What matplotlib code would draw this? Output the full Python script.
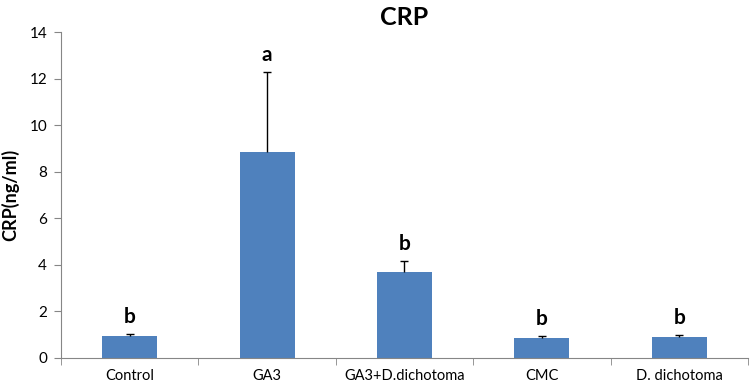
import numpy as np
import matplotlib as mpl
mpl.use('Agg')
from matplotlib import pyplot as plt

# данные с картинки
groups = ['Control', 'GA3', 'GA3+D.dichotoma', 'CMC', 'D. dichotoma']
crp = [0.93, 8.85, 3.69, 0.87, 0.90]
err = [0.10, 3.43, 0.47, 0.08, 0.08]
letters = ['b', 'a', 'b', 'b', 'b']

plt.rcParams['font.family'] = ['Lato', 'DejaVu Sans']

fig = plt.figure(figsize=(7.51, 3.91), dpi=100)
ax = fig.add_axes([0.0812, 0.0844, 0.9148, 0.8336])

x = np.arange(len(groups))
ax.bar(x, crp, width=0.4, color='#4F81BD', zorder=2)
_, caps, _ = ax.errorbar(x, crp, yerr=[np.zeros(len(err)), err], fmt='none',
                         ecolor='black', elinewidth=1, capsize=3,
                         capthick=1, zorder=3)
caps[0].set_visible(False)  # нижние засечки не нужны

for xi, v, e, s in zip(x, crp, err, letters):
    ax.text(xi, v + e + 0.3, s, ha='center', va='bottom',
            fontsize=15, fontweight='bold')

ax.set_xlim(-0.5, len(groups) - 0.5)
ax.set_ylim(0, 14)
ax.set_yticks(np.arange(0, 15, 2))
ax.set_xticks(x)
ax.set_xticklabels(groups, fontsize=10.5)
ax.set_xticks(np.arange(-0.5, len(groups), 1), minor=True)
ax.tick_params(axis='x', which='major', length=0, pad=8)
ax.tick_params(axis='x', which='minor', length=5, color='#868686')
ax.tick_params(axis='y', length=5, color='#868686', labelsize=11, pad=5)

for side in ['top', 'right']:
    ax.spines[side].set_visible(False)
for side in ['left', 'bottom']:
    ax.spines[side].set_color('#868686')

# подпись оси у самого края, как в оригинале
fig.text(0.014, 0.501, 'CRP(ng/ml)', rotation=90, ha='center', va='center',
         fontsize=13, fontweight='bold')
ax.set_title('CRP', fontsize=18, fontweight='bold', pad=5)

fig.savefig('out.png', dpi=100)
